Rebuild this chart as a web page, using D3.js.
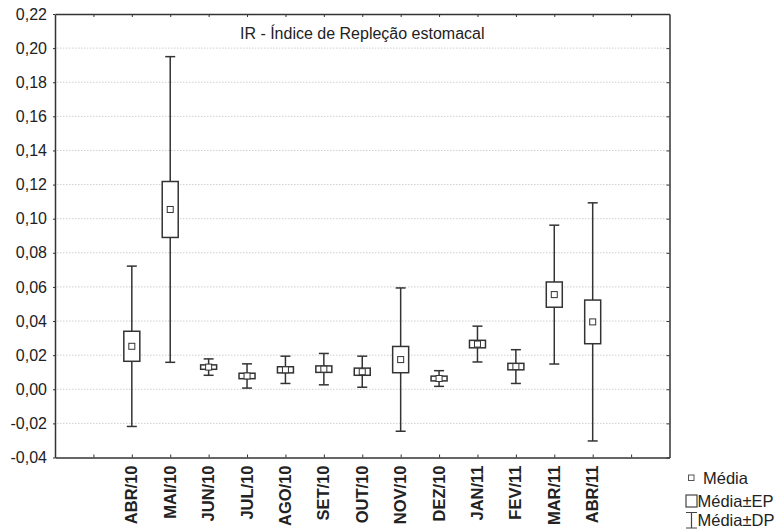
<!DOCTYPE html>
<html>
<head>
<meta charset="utf-8">
<script src="https://cdn.jsdelivr.net/npm/d3@7"></script>
<style>
  body { margin: 0; background: #fff; }
  svg { display: block; }
</style>
</head>
<body>
<div id="chart"></div>
<script>
// Monthly stomach repletion index: mean, standard error (EP), standard deviation (DP)
const months = ['ABR/10', 'MAI/10', 'JUN/10', 'JUL/10', 'AGO/10', 'SET/10', 'OUT/10',
                'NOV/10', 'DEZ/10', 'JAN/11', 'FEV/11', 'MAR/11', 'ABR/11'];
const means = [0.0252, 0.1054, 0.0130, 0.0078, 0.0114, 0.0118, 0.0103,
               0.0174, 0.0063, 0.0265, 0.0133, 0.0555, 0.0395];
const ep = [0.0088, 0.0164, 0.0013, 0.0016, 0.0018, 0.0019, 0.0021,
            0.0077, 0.0014, 0.0022, 0.0019, 0.0074, 0.0128];
const dp = [0.0470, 0.0896, 0.0048, 0.0071, 0.0080, 0.0092, 0.0091,
            0.0420, 0.0046, 0.0105, 0.0099, 0.0407, 0.0698];
const yTicks = [-0.04, -0.02, 0, 0.02, 0.04, 0.06, 0.08, 0.10, 0.12, 0.14, 0.16, 0.18, 0.20, 0.22];
const title = 'IR - Índice de Repleção estomacal';
const legendItems = ['Média', 'Média±EP', 'Média±DP'];

const W = 779, H = 532;
const plot = { left: 55, right: 669.5, top: 14, bottom: 457.5 };
const ink = '#333';

const svg = d3.select('#chart').append('svg')
    .attr('width', W)
    .attr('height', H)
    .style('font-family', '"Liberation Sans", Arial, sans-serif');

// slot 0 and 14 are empty ticks, months sit on 1..13
const x = d3.scaleLinear().domain([-1, 15]).range([plot.left, plot.right]);
const y = d3.scaleLinear().domain([-0.04, 0.22]).range([plot.bottom, plot.top]);

const fmt = v => d3.format('.2f')(v).replace('.', ',').replace('−', '-');

// Gridlines
svg.append('g')
    .selectAll('line')
    .data(yTicks.filter(v => v > -0.04 && v < 0.22))
    .enter()
    .append('line')
    .attr('x1', plot.left + 2)
    .attr('x2', plot.right - 2)
    .attr('y1', d => y(d))
    .attr('y2', d => y(d))
    .attr('stroke', '#cfcfcf')
    .attr('stroke-width', 1)
    .attr('stroke-dasharray', '1.5,1.5');

// Axes (inward ticks on all sides like the original)
const tickIdx = d3.range(0, 15);

svg.append('g')
    .attr('transform', `translate(0,${plot.bottom})`)
    .call(d3.axisBottom(x).tickValues(tickIdx).tickSize(-3).tickSizeOuter(0).tickFormat(''));
svg.append('g')
    .attr('transform', `translate(0,${plot.top})`)
    .call(d3.axisTop(x).tickValues(tickIdx).tickSize(-3).tickSizeOuter(0).tickFormat(''));
const yAxis = svg.append('g')
    .attr('transform', `translate(${plot.left},0)`)
    .call(d3.axisLeft(y).tickValues(yTicks).tickSize(2).tickSizeOuter(0).tickPadding(6).tickFormat(fmt));
svg.append('g')
    .attr('transform', `translate(${plot.right},0)`)
    .call(d3.axisRight(y).tickValues(yTicks).tickSize(-3).tickSizeOuter(0).tickFormat(''));

svg.selectAll('.domain').attr('stroke', ink).attr('stroke-width', 1.5);
svg.selectAll('.tick line').attr('stroke', ink).attr('stroke-width', 1);
yAxis.selectAll('text')
    .style('font-size', '16px')
    .style('fill', '#222');

// Rotated month labels
svg.append('g')
    .selectAll('text')
    .data(months)
    .enter()
    .append('text')
    .attr('transform', (d, i) => `translate(${x(i + 1) + 5.5},${plot.bottom + 8}) rotate(-90)`)
    .attr('text-anchor', 'end')
    .style('font-size', '16.5px')
    .style('font-weight', 'bold')
    .style('fill', '#222')
    .text(d => d);

// Title
svg.append('text')
    .attr('x', (plot.left + plot.right) / 2)
    .attr('y', 39)
    .attr('text-anchor', 'middle')
    .style('font-size', '16px')
    .style('fill', '#222')
    .text(title);

// Whiskers (mean ± DP), boxes (mean ± EP), mean markers
const rows = months.map((m, i) => ({ m, i, mean: means[i], ep: ep[i], dp: dp[i] }));
const boxW = 16, capW = 10, markW = 6;
const g = svg.append('g');

g.selectAll('.whisker')
    .data(rows)
    .enter()
    .append('line')
    .attr('x1', d => x(d.i + 1))
    .attr('x2', d => x(d.i + 1))
    .attr('y1', d => y(d.mean + d.dp))
    .attr('y2', d => y(d.mean - d.dp))
    .attr('stroke', ink)
    .attr('stroke-width', 1.5);

[1, -1].forEach(sign => {
    g.append('g')
        .selectAll('line')
        .data(rows)
        .enter()
        .append('line')
        .attr('x1', d => x(d.i + 1) - capW / 2)
        .attr('x2', d => x(d.i + 1) + capW / 2)
        .attr('y1', d => y(d.mean + sign * d.dp))
        .attr('y2', d => y(d.mean + sign * d.dp))
        .attr('stroke', ink)
        .attr('stroke-width', 1.5);
});

g.selectAll('.box')
    .data(rows)
    .enter()
    .append('rect')
    .attr('x', d => x(d.i + 1) - boxW / 2)
    .attr('y', d => y(d.mean + d.ep))
    .attr('width', boxW)
    .attr('height', d => y(d.mean - d.ep) - y(d.mean + d.ep))
    .attr('fill', '#fff')
    .attr('stroke', ink)
    .attr('stroke-width', 1.5);

g.selectAll('.mark')
    .data(rows)
    .enter()
    .append('rect')
    .attr('x', d => x(d.i + 1) - markW / 2)
    .attr('y', d => y(d.mean) - markW / 2)
    .attr('width', markW)
    .attr('height', markW)
    .attr('fill', '#fff')
    .attr('stroke', ink)
    .attr('stroke-width', 1);

// Legend
const lg = svg.append('g').style('font-size', '16.5px').style('fill', '#222');
lg.append('rect').attr('x', 688.5).attr('y', 475).attr('width', 5.5).attr('height', 5.5)
    .attr('fill', '#fff').attr('stroke', '#555').attr('stroke-width', 1);
lg.append('rect').attr('x', 686).attr('y', 495).attr('width', 11).attr('height', 12)
    .attr('fill', '#fff').attr('stroke', '#444').attr('stroke-width', 1.2);
lg.append('path').attr('d', 'M686,512.5H697M691.5,512.5V528M686,528H697')
    .attr('fill', 'none').attr('stroke', '#444').attr('stroke-width', 1.2);
lg.selectAll('text')
    .data(legendItems)
    .enter()
    .append('text')
    .attr('x', (d, i) => i === 0 ? 703 : 697.5)
    .attr('y', (d, i) => [484, 507, 526][i])
    .text(d => d);
</script>
</body>
</html>
